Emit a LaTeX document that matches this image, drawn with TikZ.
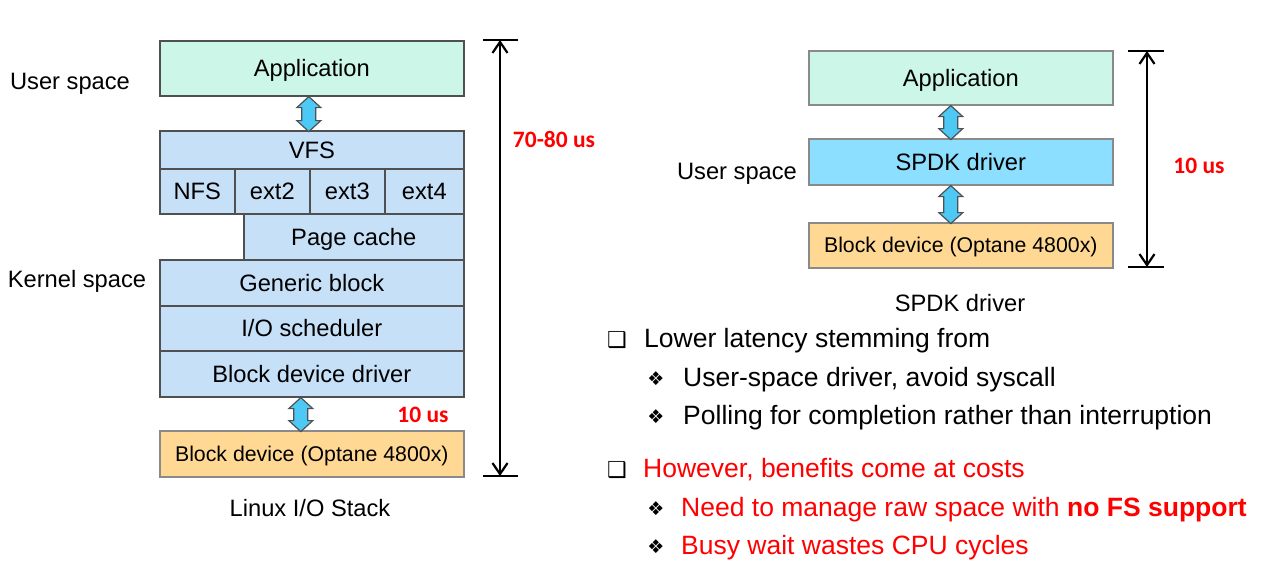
\documentclass[tikz,border=0pt]{standalone}
\usepackage{fontspec}
\setmainfont{Liberation Sans}
\newfontfamily\carlito{Carlito}
\newfontfamily\dejavu{DejaVu Sans}
\usetikzlibrary{arrows.meta,calc}
\definecolor{mint}{HTML}{CCF7E8}
\definecolor{lblue}{HTML}{C6E0F8}
\definecolor{spdkblue}{HTML}{8CDFFF}
\definecolor{devorange}{HTML}{FFD993}
\definecolor{arrowfill}{HTML}{4DC9F6}
\definecolor{darkborder}{HTML}{505050}
\definecolor{lightborder}{HTML}{8A8A8A}
\definecolor{txtred}{HTML}{FF0000}
\newcommand\dblarr[3]{\draw[dblarrow] ($(#1.south)+(#2,0)$) -- ++(12,11) -- ++(-5,0) -- ++(0,{#3-22}) -- ++(5,0) -- ++(-12,11) -- ++(-12,-11) -- ++(5,0) -- ++(0,{-(#3-22)}) -- ++(-5,0) -- cycle;}
\begin{document}
\begin{tikzpicture}[x=1pt,y=-1pt,
  box/.style={draw=darkborder, line width=1.6pt, anchor=north west, inner sep=0pt,
    text height=17pt, text depth=0pt, font=\fontsize{23.7}{28}\selectfont},
  rbox/.style={box, draw=lightborder},
  devbox/.style={box, draw=lightborder, fill=devorange, text height=15.3pt, font=\fontsize{21.3}{25}\selectfont},
  dblarrow/.style={draw=darkborder, line width=1.2pt, fill=arrowfill, line join=miter},
  lbl/.style={anchor=base, inner sep=0pt, font=\fontsize{23.7}{28}\selectfont},
  redlbl/.style={anchor=base, inner sep=0pt, text=txtred, font=\carlito\bfseries\fontsize{23.5}{28}\selectfont},
  dimline/.style={line width=2.2pt, {Straight Barb[length=11pt,width=15pt,line width=2.2pt]}-{Straight Barb[length=11pt,width=15pt,line width=2.2pt]}},
  dimtick/.style={line width=2.2pt},
  bulsq/.style={anchor=base, inner sep=0pt, font=\dejavu\fontsize{22}{26}\selectfont},
  buldia/.style={anchor=base, inner sep=0pt, font=\dejavu\fontsize{19}{22}\selectfont},
  btxt/.style={anchor=base west, inner sep=0pt, font=\fontsize{26.5}{32}\selectfont}
]
\useasboundingbox (0,0) rectangle (1273,581);

% ---- left stack ----
\node[box, fill=mint, minimum width=304pt, minimum height=55pt] (appL) at (159,40) {Application};
\node[box, fill=lblue, minimum width=304pt, minimum height=38pt] (vfs) at (159,130) {VFS};
\node[box, fill=lblue, minimum width=75pt, minimum height=45pt] (nfs) at (159,168) {NFS};
\node[box, fill=lblue, minimum width=75pt, minimum height=45pt] (ext2) at (234,168) {ext2};
\node[box, fill=lblue, minimum width=75pt, minimum height=45pt] (ext3) at (309,168) {ext3};
\node[box, fill=lblue, minimum width=79pt, minimum height=45pt] (ext4) at (384,168) {ext4};
\node[box, fill=lblue, minimum width=220pt, minimum height=46pt] (page) at (243,213) {Page cache};
\node[box, fill=lblue, minimum width=304pt, minimum height=46pt] (gen) at (159,259) {Generic block};
\node[box, fill=lblue, minimum width=304pt, minimum height=45pt] (ios) at (159,305) {I/O scheduler};
\node[box, fill=lblue, minimum width=304pt, minimum height=46pt] (bdd) at (159,350) {Block device driver};
\node[devbox, minimum width=304pt, minimum height=46pt] (devL) at (159,430) {Block device (Optane 4800x)};

\dblarr{appL}{-3}{35}
\dblarr{bdd}{-11}{34}

\node[lbl] (usL) at (70,89.5) {User space};
\node[lbl] (ksL) at (77,287.5) {Kernel space};
\node[lbl] (linux) at (310,516.5) {Linux I/O Stack};
\node[redlbl] (t10L) at (423,422.6) {10 us};
\node[redlbl] (t7080) at (554,147.6) {70-80 us};

\coordinate (dLt) at (500,40);
\coordinate (dLb) at (500,476);
\coordinate (dLt1) at (483,40);
\coordinate (dLt2) at (518,40);
\coordinate (dLb1) at (483,476);
\coordinate (dLb2) at (518,476);
\draw[dimtick] (dLt1) -- (dLt2);
\draw[dimtick] (dLb1) -- (dLb2);
\draw[dimline] (dLt) -- (dLb);

% ---- right stack ----
\node[rbox, fill=mint, minimum width=304pt, minimum height=54pt] (appR) at (808,50) {Application};
\node[rbox, fill=spdkblue, minimum width=304pt, minimum height=46pt] (spdk) at (808,138) {SPDK driver};
\node[devbox, minimum width=304pt, minimum height=45pt] (devR) at (808,222) {Block device (Optane 4800x)};

\dblarr{appR}{-10}{34}
\dblarr{spdk}{-10}{38}

\node[lbl] (usR) at (737,179.5) {User space};
\node[lbl] (spdklbl) at (960,311.5) {SPDK driver};
\node[redlbl] (t10R) at (1199,173.6) {10 us};

\coordinate (dRt) at (1147,51);
\coordinate (dRb) at (1147,267);
\coordinate (dRt1) at (1128,51);
\coordinate (dRt2) at (1164,51);
\coordinate (dRb1) at (1128,267);
\coordinate (dRb2) at (1164,267);
\draw[dimtick] (dRt1) -- (dRt2);
\draw[dimtick] (dRb1) -- (dRb2);
\draw[dimline] (dRt) -- (dRb);

% ---- bullets ----
\node[bulsq] (b1) at (617,347) {❑};
\node[btxt] (l1) at (644,347) {Lower latency stemming from};
\node[buldia] (b2) at (656,385) {❖};
\node[btxt] (l2) at (683,386) {User-space driver, avoid syscall};
\node[buldia] (b3) at (656,423) {❖};
\node[btxt] (l3) at (683,424) {Polling for completion rather than interruption};
\node[bulsq] (b4) at (617,477) {❑};
\node[btxt, text=txtred] (l4) at (643,477) {However, benefits come at costs};
\node[buldia] (b5) at (656,515) {❖};
\node[btxt, text=txtred] (l5) at (681,516) {Need to manage raw space with \textbf{no FS support}};
\node[buldia] (b6) at (656,553) {❖};
\node[btxt, text=txtred] (l6) at (681,554) {Busy wait wastes CPU cycles};
\end{tikzpicture}
\end{document}
